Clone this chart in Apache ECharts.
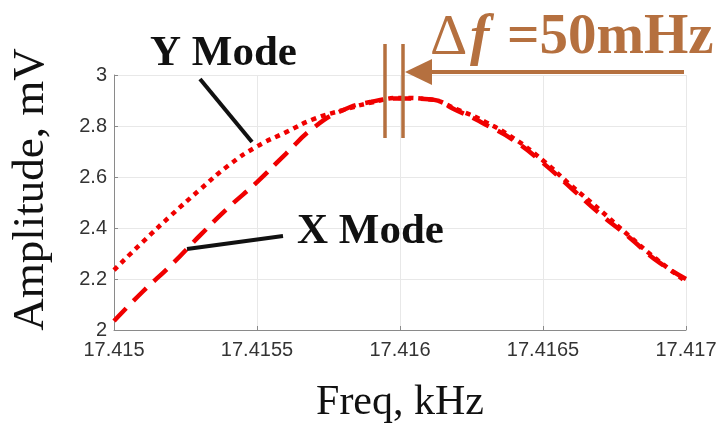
<!DOCTYPE html>
<html><head><meta charset="utf-8">
<script src="https://cdn.jsdelivr.net/npm/echarts@6/dist/echarts.min.js"></script>
<style>html,body{margin:0;padding:0;background:#fff}#c{width:728px;height:423px}</style>
</head><body><div id="c"></div>
<script>
const freq = [17.415,17.4151,17.4152,17.4153,17.4154,17.4155,17.4156,17.4157,17.4158,17.4159,17.416,17.4161,17.4162,17.4163,17.4164,17.4165,17.4166,17.4167,17.4168,17.4169,17.417];
const yMode = [2.235,2.345,2.45,2.55,2.645,2.72,2.775,2.828,2.862,2.892,2.91,2.905,2.865,2.815,2.75,2.665,2.565,2.47,2.37,2.275,2.19];
const xMode = [2.035,2.15,2.255,2.37,2.48,2.58,2.69,2.795,2.862,2.895,2.908,2.905,2.86,2.805,2.742,2.655,2.555,2.455,2.365,2.27,2.2];
const xTicks = ['17.415','17.4155','17.416','17.4165','17.417'];
const yTicks = ['2','2.2','2.4','2.6','2.8','3'];
const brown = '#b5703f';
const chart = echarts.init(document.getElementById('c'));
chart.setOption({
  animation:false,
  backgroundColor:'#fff',
  grid:{left:114,right:42,top:75,bottom:93,containLabel:false,outerBoundsMode:'none'},
  xAxis:{type:'value',min:17.415,max:17.417,interval:0.0005,
    axisLine:{lineStyle:{color:'#8a8a8a',width:1}},
    axisTick:{inside:true,length:4,lineStyle:{color:'#8a8a8a'}},
    splitLine:{show:true,lineStyle:{color:'#e8e8e8'}},
    axisLabel:{fontFamily:'Liberation Sans',fontSize:20,color:'#333',margin:10,
      formatter:v=>{const s=String(parseFloat(v.toFixed(4)));return xTicks.includes(s)?s:'';}},
    name:'Freq, kHz',nameLocation:'middle',nameGap:52,
    nameTextStyle:{fontFamily:'Liberation Serif',fontSize:42,color:'#111'}},
  yAxis:{type:'value',min:2,max:3,interval:0.2,
    axisLine:{show:true,lineStyle:{color:'#8a8a8a',width:1}},
    axisTick:{show:true,inside:true,length:4,lineStyle:{color:'#8a8a8a'}},
    splitLine:{show:true,lineStyle:{color:'#e8e8e8'}},
    axisLabel:{fontFamily:'Liberation Sans',fontSize:20,color:'#333',margin:7,
      formatter:v=>{const s=String(parseFloat(v.toFixed(1)));return yTicks.includes(s)?s:'';}},
    name:'Amplitude, mV',nameLocation:'middle',nameGap:60,nameRotate:90,
    nameTextStyle:{fontFamily:'Liberation Serif',fontSize:45,color:'#111',padding:[0,0,0,26]}},
  series:[
    {name:'Y Mode',type:'line',smooth:true,symbol:'none',
     data:freq.map((f,i)=>[f,yMode[i]]),
     lineStyle:{color:'#f00000',width:4.5,type:[5,5]}},
    {name:'X Mode',type:'line',smooth:true,symbol:'none',
     data:freq.map((f,i)=>[f,xMode[i]]),
     lineStyle:{color:'#f00000',width:4.5,type:[18,10]}}
  ],
  graphic:[
    {type:'text',z:100,left:150,top:32,style:{text:'Y Mode',fontFamily:'Liberation Serif',fontWeight:'bold',fontSize:43,fill:'#111'}},
    {type:'line',z:100,shape:{x1:200,y1:79,x2:252,y2:142},style:{stroke:'#111',lineWidth:4}},
    {type:'text',z:100,left:297,top:210,style:{text:'X Mode',fontFamily:'Liberation Serif',fontWeight:'bold',fontSize:43,fill:'#111'}},
    {type:'line',z:100,shape:{x1:283,y1:236,x2:187,y2:249},style:{stroke:'#111',lineWidth:4}},
    {type:'text',z:100,left:430,top:10,style:{text:'Δ',fontFamily:'Liberation Serif',fontSize:58,fill:brown}},
    {type:'text',z:100,left:470,top:10,style:{text:'f',fontFamily:'Liberation Serif',fontStyle:'italic',fontWeight:'bold',fontSize:58,fill:brown}},
    {type:'text',z:100,left:507,top:10,style:{text:'=50mHz',fontFamily:'Liberation Serif',fontWeight:'bold',fontSize:57,fill:brown}},
    {type:'line',z:100,shape:{x1:425,y1:72,x2:684,y2:72},style:{stroke:brown,lineWidth:4}},
    {type:'polygon',z:100,shape:{points:[[405,72],[432,59],[432,85]]},style:{fill:brown}},
    {type:'line',z:100,shape:{x1:385,y1:44,x2:385,y2:138},style:{stroke:brown,lineWidth:3.5}},
    {type:'line',z:100,shape:{x1:403,y1:44,x2:403,y2:138},style:{stroke:brown,lineWidth:3.5}}
  ]
});
</script></body></html>
